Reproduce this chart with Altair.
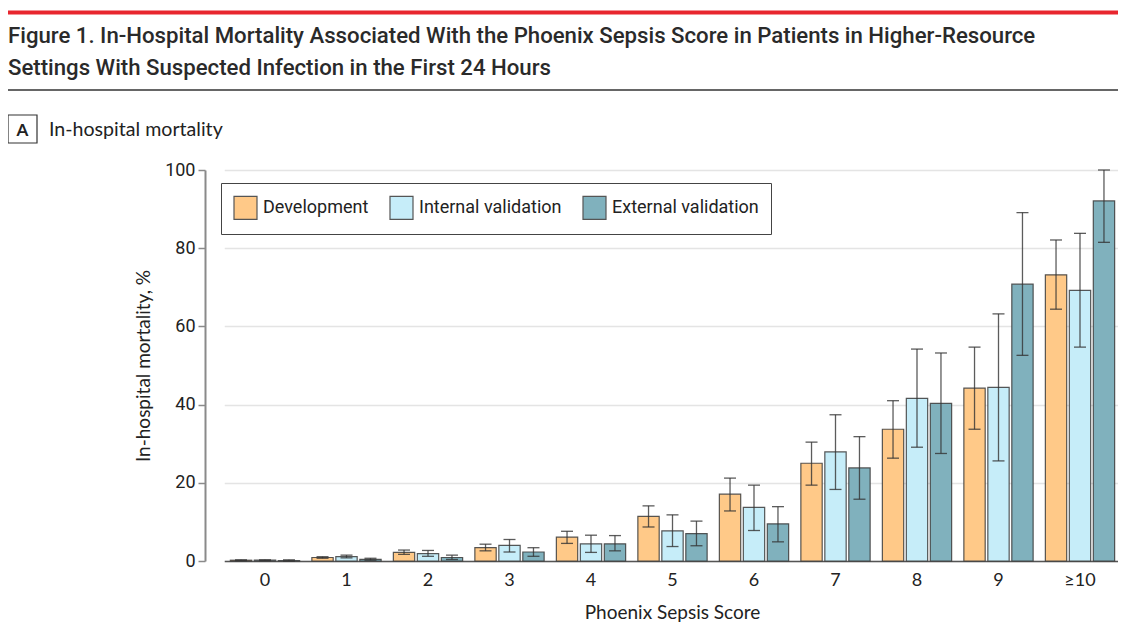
import altair as alt
import pandas as pd

scores = ["0", "1", "2", "3", "4", "5", "6", "7", "8", "9", "≥10"]
groups = ["Development", "Internal validation", "External validation"]
colors = ["#FFC988", "#C6EDF9", "#80B1BD"]

dev_val = [0.2, 0.9, 2.2, 3.4, 6.1, 11.4, 17.1, 25.0, 33.7, 44.2, 73.2]
dev_lo = [0.1, 0.7, 1.7, 2.6, 4.5, 8.7, 12.8, 19.4, 26.3, 33.7, 64.4]
dev_hi = [0.3, 1.1, 2.8, 4.3, 7.6, 14.1, 21.2, 30.4, 41.0, 54.7, 82.1]

int_val = [0.2, 1.1, 1.9, 4.0, 4.4, 7.7, 13.7, 27.9, 41.6, 44.4, 69.2]
int_lo = [0.1, 0.8, 1.2, 2.3, 2.2, 3.7, 7.8, 18.3, 29.1, 25.6, 54.7]
int_hi = [0.3, 1.5, 2.7, 5.5, 6.6, 11.8, 19.4, 37.4, 54.2, 63.2, 83.8]

ext_val = [0.1, 0.4, 0.9, 2.3, 4.4, 7.0, 9.5, 23.8, 40.3, 70.8, 92.1]
ext_lo = [0.0, 0.2, 0.4, 1.2, 2.6, 3.9, 4.9, 15.8, 27.5, 52.6, 81.5]
ext_hi = [0.3, 0.7, 1.5, 3.4, 6.5, 10.2, 13.9, 31.8, 53.2, 89.1, 100.0]

title_line1 = "Figure 1. In-Hospital Mortality Associated With the Phoenix Sepsis Score in Patients in Higher-Resource"
title_line2 = "Settings With Suspected Infection in the First 24 Hours"
panel_letter = "A"
panel_title = "In-hospital mortality"

rows = []
for g, vals, los, his in [
    (groups[0], dev_val, dev_lo, dev_hi),
    (groups[1], int_val, int_lo, int_hi),
    (groups[2], ext_val, ext_lo, ext_hi),
]:
    for s, v, lo, hi in zip(scores, vals, los, his):
        rows.append({"score": s, "group": g, "value": v, "lo": lo, "hi": hi})
df = pd.DataFrame(rows)

COND = "Roboto"
REG = "Lato"

x_axis = alt.Axis(
    title="Phoenix Sepsis Score", labelAngle=0, ticks=False,
    domainColor="#555555", domainWidth=1.5,
    labelFont=REG, labelFontSize=18, labelColor="#222222", labelPadding=10,
    titleFont=REG, titleFontSize=19, titleFontWeight="normal", titleColor="#222222",
    titleX=467, titleY=57, titleBaseline="alphabetic", titleAlign="center",
    grid=False,
)
y_axis = alt.Axis(
    values=[0, 20, 40, 60, 80, 100], title="In-hospital mortality, %",
    titleFont=REG, titleFontSize=19, titleFontWeight="normal", titleColor="#222222",
    titleX=-62, titleY=195.5, titleAngle=270, titleAlign="center", titleBaseline="middle",
    labelFont=COND, labelFontSize=18, labelColor="#222222", labelPadding=3,
    tickSize=7, tickColor="#8a8a8a", tickWidth=1.5,
    domainColor="#8a8a8a", domainWidth=2,
    grid=True, gridColor="#e4e4e4", gridWidth=1.5,
)
x_scale = alt.Scale(domain=scores, range=[19.25, 915.75], paddingInner=0.15, paddingOuter=0.075)
y_scale = alt.Scale(domain=[0, 100], nice=False)
xo = alt.XOffset("group:N", sort=groups, scale=alt.Scale(domain=groups, paddingInner=0.11, paddingOuter=0))

X = alt.X("score:N", sort=scores, scale=x_scale, axis=x_axis)

bars = alt.Chart(df).mark_bar(stroke="#3a3a3a", strokeWidth=1.2, strokeOpacity=0.85).encode(
    x=X, xOffset=xo,
    y=alt.Y("value:Q", scale=y_scale, axis=y_axis),
    color=alt.Color(
        "group:N", sort=groups, scale=alt.Scale(domain=groups, range=colors),
        legend=alt.Legend(
            title=None, orient="none", legendX=16, legendY=13, direction="horizontal",
            symbolType="square", symbolSize=529, symbolStrokeColor="#555555",
            symbolStrokeWidth=1.2, symbolOpacity=1,
            labelFont=COND, labelFontSize=18, labelColor="#222222", labelOffset=5,
            labelLimit=300, columnPadding=18, padding=12,
            strokeColor="#444444", fillColor="white",
        ),
    ),
)

rules = alt.Chart(df).mark_rule(color="#333333", strokeWidth=1.3, opacity=0.8).encode(
    x=X, xOffset=xo,
    y=alt.Y("lo:Q", scale=y_scale, axis=y_axis), y2="hi:Q",
)
cap_lo = alt.Chart(df).mark_tick(size=12, thickness=1.3, color="#333333", opacity=0.8).encode(
    x=X, xOffset=xo, y=alt.Y("lo:Q", scale=y_scale, axis=y_axis),
)
cap_hi = alt.Chart(df).mark_tick(size=12, thickness=1.3, color="#333333", opacity=0.8).encode(
    x=X, xOffset=xo, y=alt.Y("hi:Q", scale=y_scale, axis=y_axis),
)

one = pd.DataFrame({"k": [0]})
red_bar = alt.Chart(one).mark_rule(color="#E8262E", strokeWidth=4).encode(
    x=alt.value(-197), x2=alt.value(914), y=alt.value(-157.5))
black_rule = alt.Chart(one).mark_rule(color="#333333", strokeWidth=1.5).encode(
    x=alt.value(-197), x2=alt.value(914), y=alt.value(-80))
t1 = alt.Chart(one).mark_text(align="left", baseline="alphabetic", font=COND, fontSize=22.2,
                              fontWeight=500, color="#2a2a2a").encode(
    x=alt.value(-197), y=alt.value(-127), text=alt.value(title_line1))
t2 = alt.Chart(one).mark_text(align="left", baseline="alphabetic", font=COND, fontSize=22.2,
                              fontWeight=500, color="#2a2a2a").encode(
    x=alt.value(-197), y=alt.value(-95), text=alt.value(title_line2))
box = alt.Chart(one).mark_rect(fill="white", stroke="#333333", strokeWidth=1.2).encode(
    x=alt.value(-197), x2=alt.value(-168), y=alt.value(-55), y2=alt.value(-27))
letter = alt.Chart(one).mark_text(align="center", baseline="alphabetic", font=REG, fontSize=17,
                                  fontWeight="bold", color="#222222").encode(
    x=alt.value(-182.5), y=alt.value(-34), text=alt.value(panel_letter))
ptitle = alt.Chart(one).mark_text(align="left", baseline="alphabetic", font=REG, fontSize=19.6,
                                  color="#222222").encode(
    x=alt.value(-156), y=alt.value(-34), text=alt.value(panel_title))

chart = alt.layer(
    bars, rules, cap_lo, cap_hi, red_bar, black_rule, t1, t2, box, letter, ptitle
).properties(
    width=913, height=391,
    autosize=alt.AutoSizeParams(type="none"),
    padding={"left": 197, "top": 162, "right": 0, "bottom": 62},
).configure_view(stroke=None)

chart.save("out.html", embed_options={"renderer": "svg", "actions": False})
